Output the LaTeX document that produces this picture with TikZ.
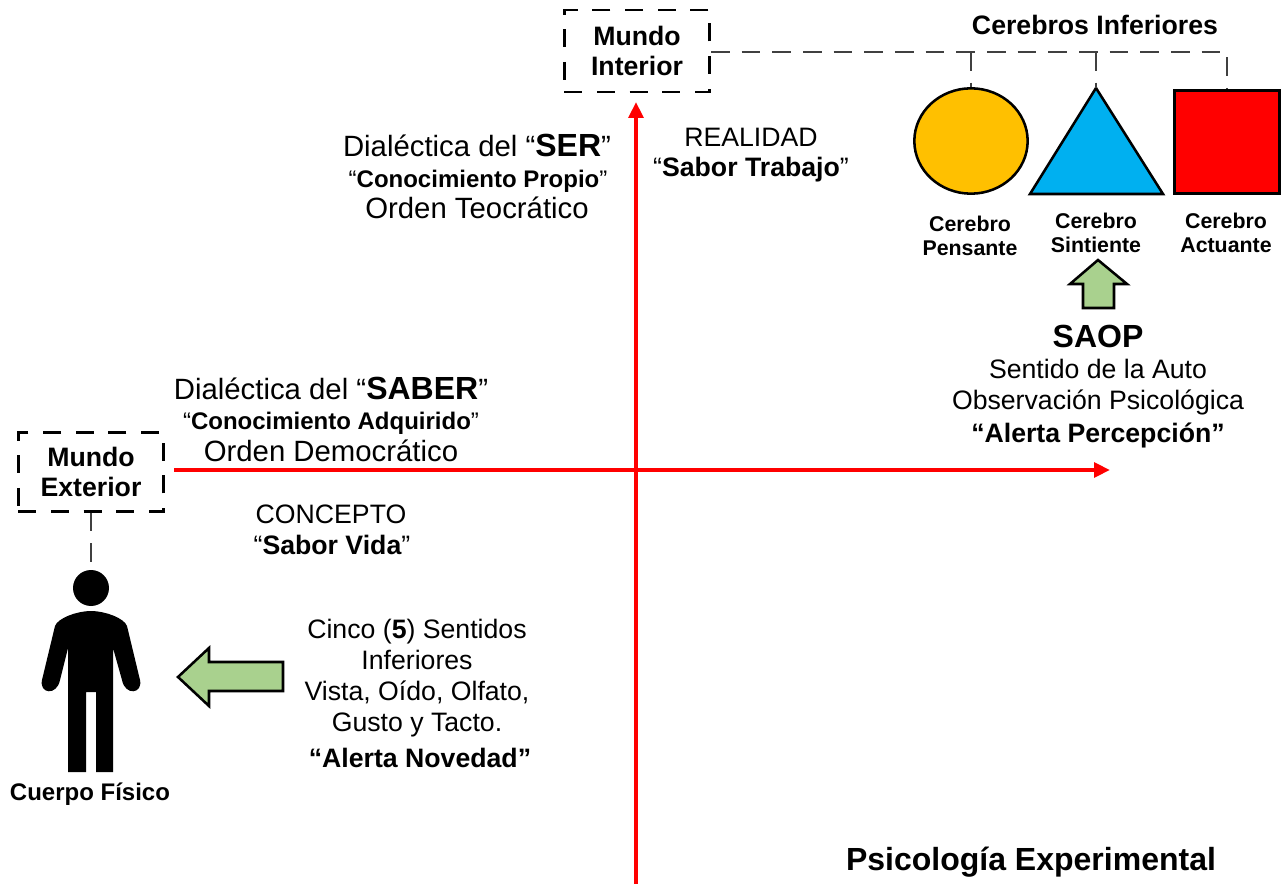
\documentclass[tikz,border=0pt]{standalone}
\usepackage{fontspec}
\setmainfont{Liberation Sans}
\usetikzlibrary{positioning}
\usetikzlibrary{arrows.meta}
\usetikzlibrary{shapes.geometric}
\definecolor{ejeRed}{RGB}{255,0,0}
\definecolor{flechaGreen}{RGB}{169,209,142}
\definecolor{pensanteFill}{RGB}{255,192,0}
\definecolor{sintienteFill}{RGB}{0,176,240}
\tikzset{
    txt/.style={anchor=base, inner sep=0pt, align=center},
    small/.style={txt, font=\fontsize{18}{23.2}\selectfont},
    normal/.style={txt, font=\fontsize{20}{23.2}\selectfont},
    large/.style={txt, font=\fontsize{22}{26}\selectfont},
    boldtxt/.style={txt, font=\fontsize{20}{23.2}\selectfont\bfseries},
    cerebro/.style={txt, font=\fontsize{16}{18.4}\selectfont\bfseries},
    mundo/.style={draw, line width=2pt, dash pattern=on 13.5pt off 11pt, minimum width=109pt, minimum height=59pt, inner sep=0pt, align=center, font=\fontsize{20}{23.2}\selectfont\bfseries},
    eje/.style={ejeRed, line width=3pt, -{Triangle[length=12pt,width=11pt]}},
    enlace/.style={black!75, line width=0.9pt, dash pattern=on 14pt off 9pt},
    forma/.style={draw=black, line width=1.9pt},
    flecha/.style={draw=black, fill=flechaGreen, line width=1.9pt, miter limit=6}
}

\begin{document}
\begin{tikzpicture}[x=0.75pt,y=-0.75pt]
    \useasboundingbox (0,0) rectangle (1283,884);
    % mundos
    \node[mundo, minimum height=61.5pt] (interior) at (637,51) {Mundo\\Interior};
    \node[mundo] (exterior) at (91,472) {Mundo\\Exterior};
    % ejes
    \coordinate (serStart) at (636,884);
    \coordinate (serEnd) at (636,102);
    \coordinate (saberStart) at (174,470);
    \coordinate (saberEnd) at (1110,470);
    \draw[eje] (serStart) -- (serEnd);
    \draw[eje] (saberStart) -- (saberEnd);
    % cerebros
    \node[forma, ellipse, fill=pensanteFill, minimum width=85pt, minimum height=79pt, inner sep=0pt] (pensante) at (971,141) {};
    \coordinate (sintienteTop) at (1096,88);
    \coordinate (sintienteLeft) at (1030,194);
    \coordinate (sintienteRight) at (1163,194);
    \draw[forma, fill=sintienteFill] (sintienteTop) -- (sintienteRight) -- (sintienteLeft) -- cycle;
    \node[forma, rectangle, fill=ejeRed, minimum width=79pt, minimum height=77pt, inner sep=0pt] (actuante) at (1227,142) {};
    \coordinate (troncoA) at (971,52);
    \coordinate (troncoB) at (1096,52);
    \coordinate (troncoC) at (1227,52);
    \draw[enlace] (interior.east |- troncoC) -- (troncoC) -- (actuante.north);
    \draw[enlace] (troncoA) -- (pensante.north);
    \draw[enlace] (troncoB) -- (sintienteTop);
    % cuerpo
    \node[circle, fill=black, minimum size=27pt, inner sep=0pt] (cabeza) at (91,588) {};
    \fill[black] (68,648) -- (68,772) -- (86,772) -- (86,692) -- (96,692) -- (96,772) -- (113,772) -- (113,648)
        -- (122,680) .. controls (125,696) and (143,694) .. (140,680) -- (127,626)
        .. controls (124,618) and (105,611) .. (91,611) .. controls (77,611) and (58,618) .. (55,626)
        -- (42,680) .. controls (39,694) and (57,696) .. (60,680) -- cycle;
    \draw[enlace] (exterior.south) -- (cabeza.north);
    % flechas
    \draw[flecha] (178,677) -- (209,648) -- (209,662) -- (283,662) -- (283,691) -- (209,691) -- (209,706) -- cycle;
    \draw[flecha] (1098,260) -- (1127,284) -- (1114,284) -- (1114,308) -- (1083,308) -- (1083,284) -- (1070,284) -- cycle;
    % textos
    \node[boldtxt] (cerebros) at (1095,35) {Cerebros Inferiores};
    \node[cerebro] (tPensante) at (970,256) {Cerebro\\Pensante};
    \node[cerebro] (tSintiente) at (1096,253) {Cerebro\\Sintiente};
    \node[cerebro] (tActuante) at (1226,253) {Cerebro\\Actuante};
    \node[large] (ser) at (477,157) {Dialéctica del “\textbf{\fontsize{24}{26}\selectfont SER}”};
    \node[small] (propio) at (478,188) {“\textbf{Conocimiento Propio}”};
    \node[large] (teocratico) at (477,219) {Orden Teocrático};
    \node[normal] (realidad) at (751,147) {REALIDAD};
    \node[normal] (trabajo) at (751,177) {“\textbf{Sabor Trabajo}”};
    \node[large] (saber) at (331,400) {Dialéctica del “\textbf{\fontsize{24}{26}\selectfont SABER}”};
    \node[small] (adquirido) at (331,430) {“\textbf{Conocimiento Adquirido}”};
    \node[large] (democratico) at (331,462) {Orden Democrático};
    \node[normal] (concepto) at (331,523) {CONCEPTO};
    \node[normal] (vida) at (332,554) {“\textbf{Sabor Vida}”};
    \node[txt, font=\fontsize{24}{26}\selectfont\bfseries] (saop) at (1098,348) {SAOP};
    \node[normal] (sentido) at (1098,379) {Sentido de la Auto};
    \node[normal] (observacion) at (1098,410) {Observación Psicológica};
    \node[boldtxt] (percepcion) at (1098,443) {“Alerta Percepción”};
    \node[normal] (cinco) at (417,669) {Cinco (\textbf{5}) Sentidos\\Inferiores};
    \node[normal] (vista) at (417,731) {Vista, Oído, Olfato,\\Gusto y Tacto.};
    \node[boldtxt] (novedad) at (420,767) {“Alerta Novedad”};
    \node[txt, font=\fontsize{18}{20}\selectfont\bfseries] (fisico) at (90,800) {Cuerpo Físico};
    \node[txt, font=\fontsize{24}{26}\selectfont\bfseries] (experimental) at (1031,870) {Psicología Experimental};
\end{tikzpicture}
\end{document}
